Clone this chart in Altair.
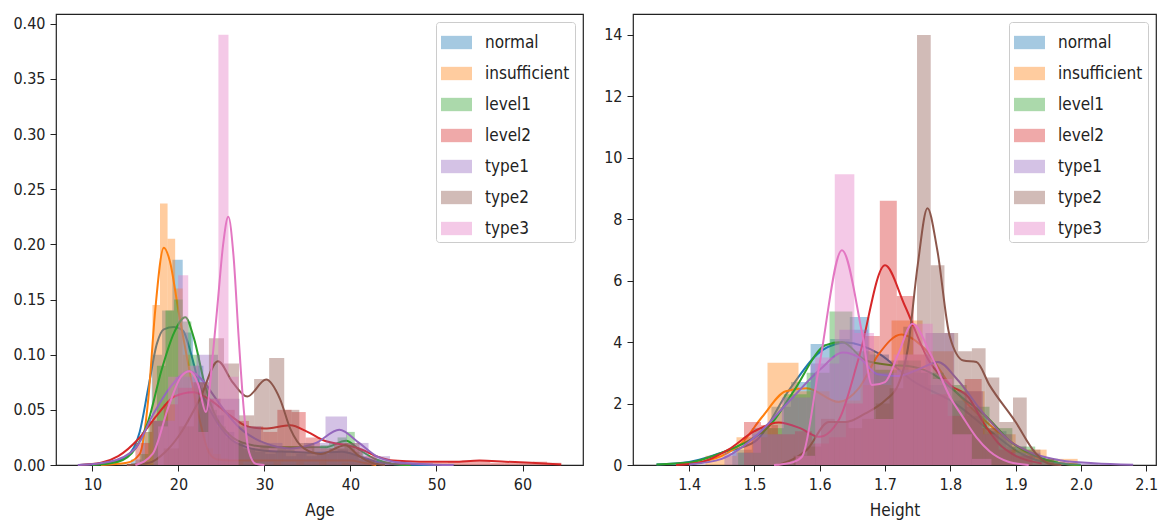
import altair as alt
import pandas as pd

CATEGORIES = ["normal", "insufficient", "level1", "level2", "type1", "type2", "type3"]
COLORS = ["#1f77b4", "#ff7f0e", "#2ca02c", "#d62728", "#9467bd", "#8c564b", "#e377c2"]
FONT = "DejaVu Sans Condensed, Liberation Sans Narrow, DejaVu Sans"

# ---------------- Age panel ----------------
AGE_TICKS = [10, 20, 30, 40, 50, 60]
AGE_YTICKS = [0.0, 0.05, 0.10, 0.15, 0.20, 0.25, 0.30, 0.35, 0.40]
AGE_BIN_START = [14.5, 16.1, 15.5, 15.0, 17.1, 18.3, 17.63]
AGE_BIN_WIDTH = [1.2, 0.88, 1.0, 1.65, 2.5, 1.75, 1.17]

AGE_HIST_NORMAL = [0.005, 0.03, 0.10, 0.14, 0.186, 0.12, 0.09, 0.06, 0.045, 0.03, 0.02, 0.015,
                   0.012, 0.01, 0.012, 0.008, 0.01, 0.008, 0.01, 0.012, 0.014, 0.01, 0.006, 0.004]
AGE_HIST_INSUFFICIENT = [0.03, 0.145, 0.237, 0.205, 0.16, 0.10, 0.07, 0.03, 0.015, 0.01, 0.006, 0.004,
                         0.003, 0.0, 0.004, 0.0, 0.0, 0.003, 0.0, 0.0, 0.003, 0.0, 0.0, 0.003, 0.0, 0.0, 0.002]
AGE_HIST_LEVEL1 = [0.01, 0.04, 0.09, 0.14, 0.15, 0.13, 0.10, 0.07, 0.05, 0.035, 0.025, 0.02, 0.015, 0.015,
                   0.018, 0.012, 0.015, 0.014, 0.012, 0.012, 0.015, 0.018, 0.02, 0.025, 0.03, 0.012, 0.004]
AGE_HIST_LEVEL2 = [0.02, 0.04, 0.055, 0.07, 0.075, 0.06, 0.05, 0.04, 0.035, 0.03, 0.05, 0.048, 0.025, 0.015,
                   0.02, 0.015, 0.008, 0.003, 0.002, 0.002, 0.002, 0.002, 0.003, 0.004, 0.004, 0.002, 0.002,
                   0.002, 0.003, 0.002]
AGE_HIST_TYPE1 = [0.04, 0.08, 0.10, 0.06, 0.035, 0.02, 0.015, 0.02, 0.044, 0.02, 0.008, 0.003, 0.002, 0.001]
AGE_HIST_TYPE2 = [0.015, 0.035, 0.075, 0.115, 0.092, 0.045, 0.078, 0.097, 0.05, 0.02, 0.01, 0.015, 0.02, 0.005]
AGE_HIST_TYPE3 = [0.035, 0.08, 0.172, 0.09, 0.03, 0.06, 0.39, 0.08]

AGE_KDE_NORMAL = [(8.5, 0.0), (12, 0.002), (14, 0.008), (15.5, 0.03), (16.5, 0.07), (17.5, 0.11), (18.3, 0.123),
                  (19.5, 0.125), (20.5, 0.122), (21.5, 0.1), (22.5, 0.07), (24, 0.045), (26, 0.024), (28, 0.016),
                  (30, 0.013), (33, 0.012), (36, 0.011), (39, 0.012), (41, 0.008), (43, 0.003), (46, 0.0005), (50, 0.0)]
AGE_KDE_INSUFFICIENT = [(11, 0.0), (14, 0.002), (15.5, 0.01), (16.5, 0.06), (17.3, 0.14), (18.3, 0.197), (19, 0.185),
                        (20, 0.14), (21.3, 0.085), (22.5, 0.04), (23.5, 0.012), (24.5, 0.005), (26, 0.004), (30, 0.004),
                        (35, 0.004), (40, 0.004), (41.5, 0.002), (43, 0.0)]
AGE_KDE_LEVEL1 = [(10, 0.0), (13, 0.003), (15, 0.015), (16.5, 0.04), (18, 0.085), (19.5, 0.12), (20.8, 0.134),
                  (21.8, 0.115), (23, 0.075), (24, 0.05), (26, 0.027), (28, 0.019), (31, 0.016), (34, 0.016),
                  (37, 0.016), (39.5, 0.022), (41, 0.014), (43, 0.005), (45, 0.001), (47, 0.0)]
AGE_KDE_LEVEL2 = [(8.5, 0.0), (11, 0.002), (13, 0.008), (15.4, 0.024), (17.5, 0.045), (19.5, 0.062), (21.7, 0.066),
                  (23.5, 0.06), (26, 0.045), (28, 0.035), (30, 0.033), (33, 0.036), (35, 0.03), (37, 0.022),
                  (39.5, 0.018), (41, 0.015), (43, 0.008), (45, 0.004), (48, 0.003), (52, 0.003), (55, 0.004),
                  (58, 0.003), (61, 0.002), (64.5, 0.0005)]
AGE_KDE_TYPE1 = [(8.3, 0.0), (12, 0.003), (15, 0.015), (17, 0.045), (19, 0.07), (21.3, 0.085), (23, 0.075),
                 (24, 0.064), (25.5, 0.048), (27.2, 0.033), (30, 0.02), (33, 0.015), (36, 0.02), (38.7, 0.032),
                 (41, 0.02), (43, 0.008), (45, 0.003), (48, 0.001), (52, 0.0)]
AGE_KDE_TYPE2 = [(14, 0.0), (16.6, 0.002), (18.5, 0.012), (20.1, 0.027), (22.5, 0.06), (24.6, 0.094), (26.3, 0.075),
                 (28, 0.062), (30.2, 0.0775), (31.8, 0.06), (33, 0.033), (34.6, 0.015), (36.5, 0.01), (39.4, 0.018),
                 (41, 0.008), (42.5, 0.002), (44, 0.0)]
AGE_KDE_TYPE3 = [(15, 0.0), (17, 0.01), (18.9, 0.054), (20.3, 0.08), (21.3, 0.085), (22.3, 0.073), (23.2, 0.048),
                 (24, 0.1), (24.6, 0.15), (25.2, 0.2), (25.8, 0.225), (26.4, 0.19), (27, 0.116), (27.6, 0.05),
                 (28.2, 0.012), (29, 0.001), (30, 0.0)]

# ---------------- Height panel ----------------
HEIGHT_TICKS = [1.4, 1.5, 1.6, 1.7, 1.8, 1.9, 2.0, 2.1]
HEIGHT_YTICKS = [0, 2, 4, 6, 8, 10, 12, 14]
HEIGHT_BIN_START = [1.466, 1.425, 1.475, 1.484, 1.454, 1.56, 1.563]
HEIGHT_BIN_WIDTH = [0.03, 0.0475, 0.035, 0.026, 0.044, 0.021, 0.03]

HEIGHT_HIST_NORMAL = [0.5, 1.2, 1.9, 2.7, 3.94, 4.1, 4.82, 3.6, 3.4, 3.0, 2.6, 2.1, 1.6, 1.1, 0.6, 0.3, 0.1]
HEIGHT_HIST_INSUFFICIENT = [0.3, 0.9, 3.33, 2.4, 2.1, 2.6, 4.7, 3.7, 2.4, 1.0, 0.5, 0.2]
HEIGHT_HIST_LEVEL1 = [0.4, 1.2, 2.3, 3.0, 5.0, 3.7, 3.1, 3.4, 3.0, 2.6, 1.9, 1.2, 0.6, 0.2]
HEIGHT_HIST_LEVEL2 = [1.4, 1.3, 1.0, 1.1, 0.7, 0.9, 2.0, 4.2, 8.6, 5.5, 3.6, 2.3, 1.6, 2.8, 1.2, 0.5, 0.3]
HEIGHT_HIST_TYPE1 = [0.4, 1.0, 2.2, 3.3, 4.4, 3.0, 3.1, 4.3, 2.4, 1.0, 0.4, 0.1, 0.05]
HEIGHT_HIST_TYPE2 = [0.3, 0.6, 1.5, 1.4, 1.2, 1.5, 2.0, 2.5, 4.5, 14.0, 6.5, 4.3, 3.7, 3.8, 2.85, 1.4, 2.2, 0.5, 0.2]
HEIGHT_HIST_TYPE3 = [0.3, 3.5, 9.46, 4.3, 1.5, 3.6, 4.6, 2.8, 1.0, 0.2]

HEIGHT_KDE_NORMAL = [(1.35, 0.02), (1.40, 0.1), (1.45, 0.4), (1.50, 0.75), (1.553, 2.44), (1.604, 3.74), (1.641, 3.99),
                     (1.69, 3.63), (1.741, 2.76), (1.808, 2.0), (1.859, 1.14), (1.91, 0.35), (1.95, 0.08), (2.0, 0.01)]
HEIGHT_KDE_INSUFFICIENT = [(1.40, 0.05), (1.45, 0.3), (1.48, 0.7), (1.512, 1.57), (1.548, 2.4), (1.58, 2.5),
                           (1.629, 2.05), (1.66, 2.5), (1.69, 3.6), (1.725, 4.25), (1.76, 3.8), (1.80, 2.6),
                           (1.85, 1.5), (1.89, 0.8), (1.93, 0.25), (1.97, 0.05), (2.0, 0.0)]
HEIGHT_KDE_LEVEL1 = [(1.35, 0.02), (1.40, 0.08), (1.45, 0.4), (1.50, 0.9), (1.522, 1.25), (1.56, 2.4), (1.609, 3.9),
                     (1.634, 4.0), (1.67, 3.41), (1.71, 3.25), (1.735, 3.22), (1.77, 3.0), (1.818, 2.2),
                     (1.859, 1.5), (1.89, 0.8), (1.93, 0.3), (1.97, 0.05), (2.0, 0.0)]
HEIGHT_KDE_LEVEL2 = [(1.38, 0.0), (1.42, 0.1), (1.46, 0.5), (1.50, 1.1), (1.537, 1.38), (1.57, 1.2), (1.599, 0.92),
                     (1.63, 1.5), (1.66, 3.5), (1.70, 6.5), (1.73, 5.2), (1.767, 3.4), (1.80, 2.6), (1.828, 2.2),
                     (1.85, 1.4), (1.874, 0.7), (1.90, 0.3), (1.94, 0.05)]
HEIGHT_KDE_TYPE1 = [(1.40, 0.02), (1.45, 0.2), (1.50, 0.9), (1.55, 2.0), (1.60, 3.1), (1.636, 3.66), (1.66, 3.5),
                    (1.689, 2.95), (1.72, 2.9), (1.755, 3.15), (1.781, 3.35), (1.81, 2.8), (1.85, 1.7), (1.89, 0.8),
                    (1.93, 0.35), (1.97, 0.15), (2.02, 0.06), (2.08, 0.01)]
HEIGHT_KDE_TYPE2 = [(1.535, 0.0), (1.56, 0.2), (1.58, 0.49), (1.614, 1.4), (1.64, 1.4), (1.67, 1.68), (1.70, 2.1),
                    (1.72, 2.6), (1.735, 3.8), (1.75, 6.5), (1.765, 8.36), (1.78, 7.0), (1.799, 4.2), (1.82, 3.4),
                    (1.84, 3.35), (1.86, 2.6), (1.90, 1.4), (1.93, 0.4), (1.95, 0.05), (1.97, 0.0)]
HEIGHT_KDE_TYPE3 = [(1.53, 0.0), (1.56, 0.1), (1.573, 0.27), (1.599, 3.2), (1.634, 6.99), (1.665, 4.28), (1.68, 2.6),
                    (1.70, 2.7), (1.72, 3.6), (1.742, 4.6), (1.77, 3.6), (1.80, 2.2), (1.818, 1.6), (1.84, 0.9),
                    (1.86, 0.45), (1.89, 0.1), (1.92, 0.0)]

AGE_HISTS = [AGE_HIST_NORMAL, AGE_HIST_INSUFFICIENT, AGE_HIST_LEVEL1, AGE_HIST_LEVEL2,
             AGE_HIST_TYPE1, AGE_HIST_TYPE2, AGE_HIST_TYPE3]
AGE_KDES = [AGE_KDE_NORMAL, AGE_KDE_INSUFFICIENT, AGE_KDE_LEVEL1, AGE_KDE_LEVEL2,
            AGE_KDE_TYPE1, AGE_KDE_TYPE2, AGE_KDE_TYPE3]
HEIGHT_HISTS = [HEIGHT_HIST_NORMAL, HEIGHT_HIST_INSUFFICIENT, HEIGHT_HIST_LEVEL1, HEIGHT_HIST_LEVEL2,
                HEIGHT_HIST_TYPE1, HEIGHT_HIST_TYPE2, HEIGHT_HIST_TYPE3]
HEIGHT_KDES = [HEIGHT_KDE_NORMAL, HEIGHT_KDE_INSUFFICIENT, HEIGHT_KDE_LEVEL1, HEIGHT_KDE_LEVEL2,
               HEIGHT_KDE_TYPE1, HEIGHT_KDE_TYPE2, HEIGHT_KDE_TYPE3]


def hist_frame(starts, widths, hists):
    rows = []
    for cat, s, w, hs in zip(CATEGORIES, starts, widths, hists):
        for i, h in enumerate(hs):
            if h > 0:
                rows.append({"cat": cat, "x0": s + i * w, "x1": s + (i + 1) * w, "y": h, "y0": 0.0})
    return pd.DataFrame(rows)


def kde_frame(kdes):
    rows = []
    for cat, pts in zip(CATEGORIES, kdes):
        for x, y in pts:
            rows.append({"cat": cat, "x": x, "y": y})
    return pd.DataFrame(rows)


def panel(hdf, kdf, xdom, xticks, xfmt, ydom, yticks, yfmt, xtitle, width):
    xs = alt.Scale(domain=xdom, nice=False, zero=False)
    ys = alt.Scale(domain=ydom, nice=False, zero=False)
    xaxis = alt.Axis(values=xticks, format=xfmt, grid=False, domain=False, tickSize=6, tickColor="#222",
                     labelFont=FONT, labelFontSize=16, labelColor="#222", labelPadding=5,
                     titleFont=FONT, titleFontSize=17, titleColor="#222", titleFontWeight="normal",
                     titlePadding=10, labelFlush=False)
    yaxis = alt.Axis(values=yticks, format=yfmt, grid=False, domain=False, tickSize=6, tickColor="#222",
                     labelFont=FONT, labelFontSize=16, labelColor="#222", labelPadding=5, title=None)
    cscale = alt.Scale(domain=CATEGORIES, range=COLORS)
    legend = alt.Legend(orient="top-right", offset=8, title=None, symbolType="M-1,-0.43H1V0.43H-1Z",
                        symbolSize=961, symbolOpacity=0.4, symbolStrokeWidth=0, labelFont=FONT,
                        labelFontSize=17, labelColor="#222", fillColor="rgba(255,255,255,0.85)",
                        strokeColor="#cccccc", cornerRadius=3, padding=5, rowPadding=7, labelOffset=13)
    layers = []
    for cat in CATEGORIES:
        bars = alt.Chart(hdf).transform_filter(alt.datum.cat == cat).mark_rect(opacity=0.4).encode(
            x=alt.X("x0:Q", scale=xs, axis=xaxis, title=xtitle),
            x2="x1:Q",
            y=alt.Y("y:Q", scale=ys, axis=yaxis, title=None),
            y2="y0:Q",
            color=alt.Color("cat:N", scale=cscale, legend=legend, title=None),
        )
        line = alt.Chart(kdf).transform_filter(alt.datum.cat == cat).mark_line(
            strokeWidth=2, interpolate="monotone").encode(
            x=alt.X("x:Q", scale=xs, axis=xaxis, title=xtitle),
            y=alt.Y("y:Q", scale=ys, axis=yaxis, title=None),
            color=alt.Color("cat:N", scale=cscale, legend=None, title=None),
        )
        layers += [bars, line]
    return alt.layer(*layers).properties(width=width, height=451)


left = panel(hist_frame(AGE_BIN_START, AGE_BIN_WIDTH, AGE_HISTS), kde_frame(AGE_KDES),
             [5.77, 67.03], AGE_TICKS, "d", [0, 0.4088], AGE_YTICKS, ".2f", "Age", 527)
right = panel(hist_frame(HEIGHT_BIN_START, HEIGHT_BIN_WIDTH, HEIGHT_HISTS), kde_frame(HEIGHT_KDES),
              [1.314, 2.115], HEIGHT_TICKS, ".1f", [0, 14.68], HEIGHT_YTICKS, "d", "Height", 523)

chart = alt.hconcat(left, right, spacing=50, bounds="flush").resolve_scale(
    color="independent").resolve_legend(color="independent").properties(
    padding={"left": 12, "top": 13, "right": 5, "bottom": 5}, background="white"
).configure_view(stroke="#222", strokeWidth=1.2)

chart.save("out.html", embed_options={"renderer": "svg", "actions": False})
